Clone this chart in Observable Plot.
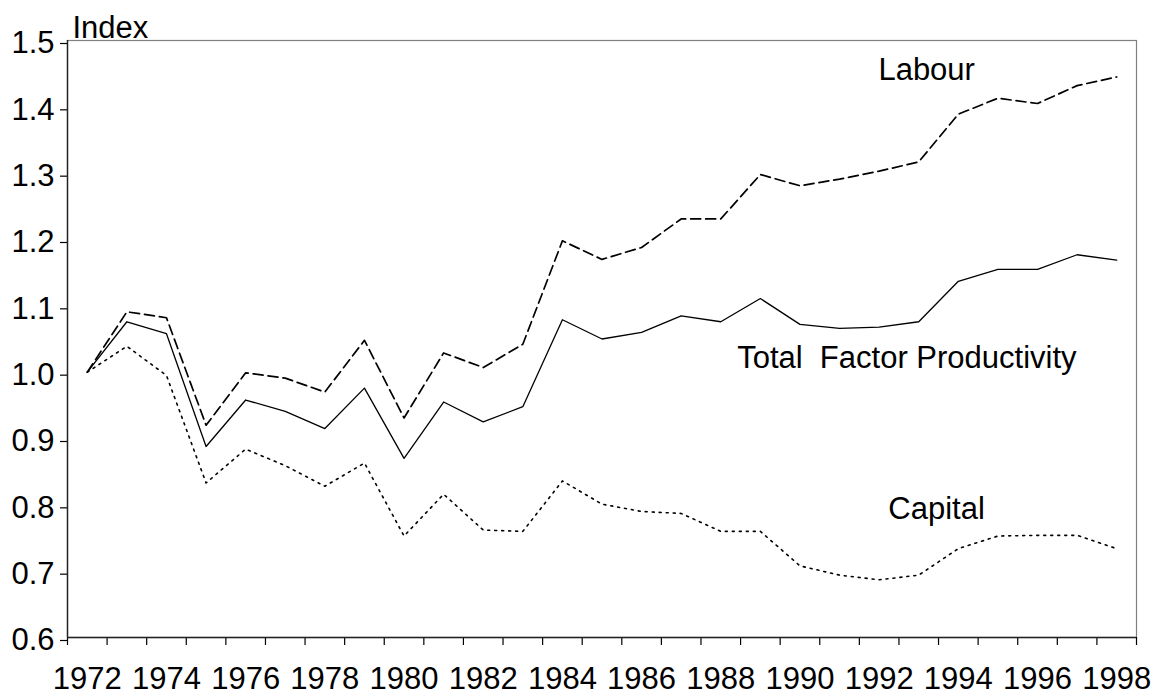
<!DOCTYPE html>
<html>
<head>
<meta charset="utf-8">
<script src="https://cdn.jsdelivr.net/npm/d3@7"></script>
<script src="https://cdn.jsdelivr.net/npm/@observablehq/plot@0.6"></script>
<style>
  html, body { margin: 0; padding: 0; background: #fff; }
  #chart svg { display: block; }
  #chart svg text { font-size: 31px; font-family: 'Liberation Sans', Arial, sans-serif; font-variant: normal; }
</style>
</head>
<body>
<div id="chart"></div>
<script>
// Categories
const years = [1972,1973,1974,1975,1976,1977,1978,1979,1980,1981,1982,1983,1984,1985,1986,1987,1988,1989,1990,1991,1992,1993,1994,1995,1996,1997,1998];
// Series values (index, 1972 = 1.0)
const labour = [1.000,1.091,1.082,0.920,0.999,0.991,0.970,1.048,0.931,1.029,1.007,1.042,1.198,1.170,1.188,1.231,1.231,1.298,1.281,1.291,1.303,1.317,1.389,1.413,1.405,1.432,1.445];
const tfp    = [1.000,1.076,1.058,0.888,0.958,0.941,0.915,0.976,0.870,0.955,0.925,0.948,1.079,1.050,1.060,1.085,1.076,1.111,1.072,1.066,1.068,1.076,1.137,1.155,1.155,1.177,1.169];
const capital= [1.000,1.039,0.995,0.833,0.884,0.859,0.828,0.863,0.753,0.816,0.762,0.760,0.836,0.801,0.790,0.787,0.760,0.760,0.708,0.694,0.687,0.694,0.734,0.753,0.754,0.754,0.734];
// Tick labels
const xTickLabels = [1972,1974,1976,1978,1980,1982,1984,1986,1988,1990,1992,1994,1996,1998];
const yTicks = [0.6,0.7,0.8,0.9,1.0,1.1,1.2,1.3,1.4,1.5];
// Series annotation labels (data coordinates)
const seriesNames = ["Labour", "Total  Factor Productivity", "Capital"];
const labelYears  = [1993.2, 1992.7, 1993.45];
const labelValues = [1.455, 1.021, 0.794];

const rows = (vals, name) => years.map((y, i) => ({year: y, value: vals[i], series: name}));
const labourRows = rows(labour, "Labour");
const tfpRows = rows(tfp, "TFP");
const capitalRows = rows(capital, "Capital");
const labelRows = seriesNames.map((n, i) => ({name: n, year: labelYears[i], value: labelValues[i]}));

const xMin = years[0] - 0.5, xMax = years[years.length - 1] + 0.5;
const boundaries = d3.range(xMin, xMax + 0.01, 1);
const FONT = "'Liberation Sans', Arial, sans-serif";
const FS = 31;

const chart = Plot.plot({
  width: 1159,
  height: 696,
  marginLeft: 67,
  marginRight: 23,
  marginTop: 40,
  marginBottom: 59,
  style: {fontFamily: FONT, fontSize: FS + "px", color: "black", background: "white"},
  x: {type: "linear", domain: [xMin, xMax]},
  y: {domain: [yTicks[0], yTicks[yTicks.length - 1]]},
  marks: [
    Plot.frame({stroke: "#808080", strokeWidth: 1.2}),
    Plot.axisY({ticks: yTicks, tickSize: 7, tickPadding: 6, tickFormat: d3.format(".1f"), fontSize: FS, dy: 3, strokeWidth: 1.2, label: null}),
    Plot.axisX({ticks: boundaries, tickSize: 8, tickFormat: () => "", strokeWidth: 1.2, label: null}),
    Plot.axisX({ticks: xTickLabels, tickSize: 0, tickPadding: 29, tickFormat: d => String(d), fontSize: FS, label: null}),
    Plot.ruleX([xMin], {stroke: "#222", strokeWidth: 1.4}),
    Plot.ruleY([yTicks[0]], {stroke: "#222", strokeWidth: 1.4}),
    Plot.line(tfpRows, {x: "year", y: "value", stroke: "black", strokeWidth: 1.3}),
    Plot.line(labourRows, {x: "year", y: "value", stroke: "black", strokeWidth: 1.7, strokeDasharray: "10,5"}),
    Plot.line(capitalRows, {x: "year", y: "value", stroke: "black", strokeWidth: 1.6, strokeDasharray: "2,5"}),
    Plot.text(labelRows, {x: "year", y: "value", text: "name", fontSize: FS, fill: "black", textAnchor: "middle"}),
    Plot.text(["Index"], {frameAnchor: "top-left", text: d => d, dx: 5, dy: -3, lineAnchor: "bottom", textAnchor: "start", fontSize: FS, fill: "black"})
  ]
});
document.getElementById("chart").appendChild(chart);
</script>
</body>
</html>
